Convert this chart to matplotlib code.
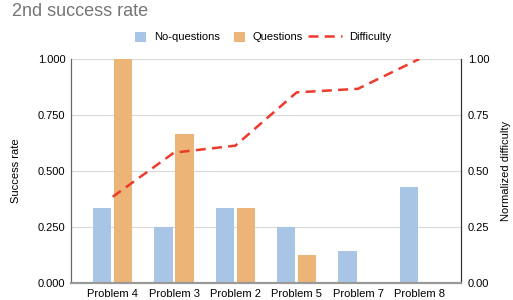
import matplotlib.pyplot as plt
import numpy as np

plt.rcParams['font.family'] = ['Liberation Sans', 'DejaVu Sans']

problems = ['Problem 4', 'Problem 3', 'Problem 2', 'Problem 5', 'Problem 7', 'Problem 8']
no_questions = [0.333, 0.25, 0.333, 0.25, 0.143, 0.429]
questions = [1.0, 0.667, 0.333, 0.125, 0.0, 0.0]
difficulty = [0.385, 0.582, 0.613, 0.851, 0.867, 1.0]

fig = plt.figure(figsize=(5.13, 3.0), dpi=100)
ax = fig.add_axes([71 / 513, 17 / 300, 390 / 513, 224 / 300])
ax2 = ax.twinx()

x = np.arange(len(problems))
w = 0.30
b1 = ax.bar(x - 0.17, no_questions, width=w, color='#a9c5e5', label='No-questions', zorder=2)
b2 = ax.bar(x + 0.17, questions, width=w, color='#ecb476', label='Questions', zorder=2)
ln, = ax2.plot(x, difficulty, color='#ee3a2c', linestyle=(0, (4, 2.5)), linewidth=1.8, label='Difficulty')

ax.set_xlim(-0.68, len(problems) - 0.32)
ax.set_ylim(0, 1)
ax2.set_ylim(0, 1)
ticks = [0, 0.25, 0.5, 0.75, 1.0]
ax.set_yticks(ticks)
ax.set_yticklabels(['%.3f' % t for t in ticks])
ax2.set_yticks(ticks)
ax2.set_yticklabels(['%.2f' % t for t in ticks])
ax.set_xticks(x)
ax.set_xticklabels(problems)
ax.tick_params(axis='both', length=0, labelsize=8, pad=4)
ax2.tick_params(axis='y', length=0, labelsize=8, pad=5)
ax.grid(axis='y', color='#d9d9d9', linewidth=0.8, zorder=0)
ax.set_axisbelow(True)

for a in (ax, ax2):
    a.spines['top'].set_visible(False)
    a.spines['left'].set_color('#666666')
    a.spines['right'].set_color('#333333')
    a.spines['bottom'].set_color('#999999')
    a.spines['bottom'].set_linewidth(1.5)

ax.set_ylabel('Success rate', fontsize=8, labelpad=12)
ax2.set_ylabel('Normalized difficulty', fontsize=8, labelpad=8)

fig.text(12 / 513, 1 - 12 / 300, '2nd success rate', fontsize=13, color='#757575', va='center')

# legends: square patches for bars, longer handle for the dashed line
fig.legend([b1, b2], ['No-questions', 'Questions'], loc='center',
           bbox_to_anchor=(219 / 513, 1 - 37 / 300), ncol=2, frameon=False, fontsize=8,
           handlelength=1.0, handleheight=1.0, columnspacing=1.3, handletextpad=0.7)
fig.legend([ln], ['Difficulty'], loc='center', bbox_to_anchor=(350 / 513, 1 - 37 / 300),
           frameon=False, fontsize=8, handlelength=3.0, handletextpad=0.7)

fig.savefig('out.png', dpi=100)
